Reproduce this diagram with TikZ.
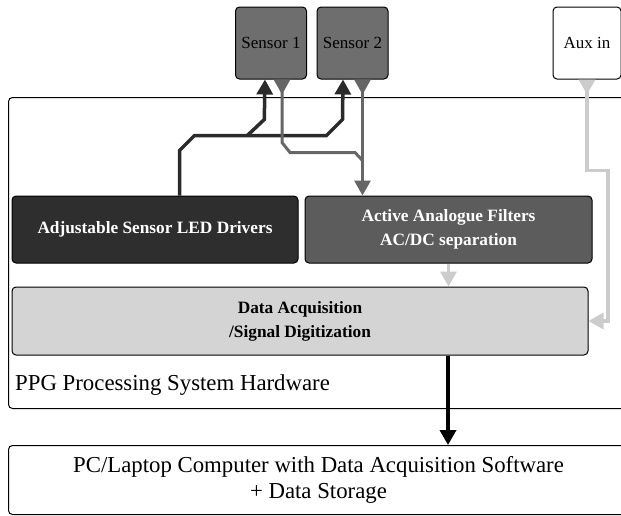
\documentclass[tikz,border=0pt]{standalone}
\usepackage{fontspec}
\setmainfont{Liberation Serif}
\usetikzlibrary{arrows.meta,calc}

\definecolor{sensorgray}{HTML}{6E6E6E}
\definecolor{ledgray}{HTML}{2E2E2E}
\definecolor{filtergray}{HTML}{5C5C5C}
\definecolor{daqgray}{HTML}{D4D4D4}
\definecolor{wiredark}{HTML}{2B2B2B}
\definecolor{wiremid}{HTML}{666666}
\definecolor{wirelight}{HTML}{CCCCCC}

\tikzset{
    block/.style={draw=black, line width=1pt, rounded corners=4pt, align=center, inner sep=0pt},
    sensorbox/.style={block, fill=sensorgray, minimum width=71pt, minimum height=72pt,
        font=\fontsize{17}{20}\selectfont},
    stagebox/.style={block, text=white, minimum width=286pt, minimum height=67pt,
        font=\fontsize{17.3}{24}\selectfont\bfseries},
    wire/.style={line width=3.5pt},
    headtip/.style={arrows={-Triangle[width=16pt,length=15pt]}},
    tailtip/.style={arrows={Triangle[reversed,width=16pt,length=15pt]-}},
    bothtip/.style={arrows={Triangle[reversed,width=16pt,length=15pt]-Triangle[width=16pt,length=15pt]}}
}

\begin{document}
\begin{tikzpicture}[x=1pt, y=-1pt]

\useasboundingbox (0,0) rectangle (621,515);

% -----------------------
% Hardware frame
% -----------------------
\node[block, anchor=north west, minimum width=622pt, minimum height=311pt] (hw) at (8,97) {};
\node[anchor=west, inner sep=0pt, font=\fontsize{22.8}{26}\selectfont] (hwlabel) at (15,385)
    {PPG Processing System Hardware};

% -----------------------
% Inputs
% -----------------------
\node[sensorbox] (sone) at (271,43) {Sensor 1};
\node[sensorbox] (stwo) at (352.5,43) {Sensor 2};
\node[sensorbox, fill=white, minimum width=68pt] (aux) at (587,43) {Aux in};

% -----------------------
% Stages
% -----------------------
\node[stagebox, fill=ledgray] (led) at (155,229.5) {Adjustable Sensor LED Drivers};
\node[stagebox, fill=filtergray, minimum width=287pt] (filt) at (448.5,229.5)
    {Active Analogue Filters\\AC/DC separation};
\node[stagebox, fill=daqgray, text=black, minimum width=576pt, minimum height=68pt] (daq) at (300,321)
    {Data Acquisition\\/Signal Digitization};

\node[block, anchor=north west, minimum width=620pt, minimum height=69pt,
    font=\fontsize{22.8}{26}\selectfont] (pc) at (8,445)
    {PC/Laptop Computer with Data Acquisition Software\\+ Data Storage};

% -----------------------
% LED drive lines
% -----------------------
\draw[wire, draw=wiredark, headtip] ([xshift=168pt]led.north west) -- ++(0,-45) -- ++(15,-15)
    -- coordinate[pos=0.4] (split) ++(132,0) -- ++(16,-16) -- ([xshift=-9.5pt]stwo.south);
\draw[wire, draw=wiredark, headtip] (split) -- ++(17,-16) -- ([xshift=-6pt]sone.south);

% -----------------------
% Sensor signal lines
% -----------------------
\draw[wire, line width=3pt, draw=wiremid, tailtip] ([xshift=11pt]sone.south) -- ++(0,63) -- ++(8,10)
    -- ++(65,0) -- ++(7.5,8);
\draw[wire, line width=3pt, draw=wiremid, bothtip] ([xshift=10pt]stwo.south)
    -- ([xshift=10pt]stwo.south |- filt.north);

% -----------------------
% Aux and filtered signals
% -----------------------
\draw[wire, draw=wirelight, bothtip] (aux.south) -- ++(0,91) -- ++(21,0) |- (daq.east);
\draw[wire, draw=wirelight, headtip] (filt.south) -- (filt.south |- daq.north);

% -----------------------
% Output to PC
% -----------------------
\draw[wire, draw=black, headtip] ([xshift=148pt]daq.south) -- ([xshift=148pt]daq.south |- pc.north);

\end{tikzpicture}
\end{document}
